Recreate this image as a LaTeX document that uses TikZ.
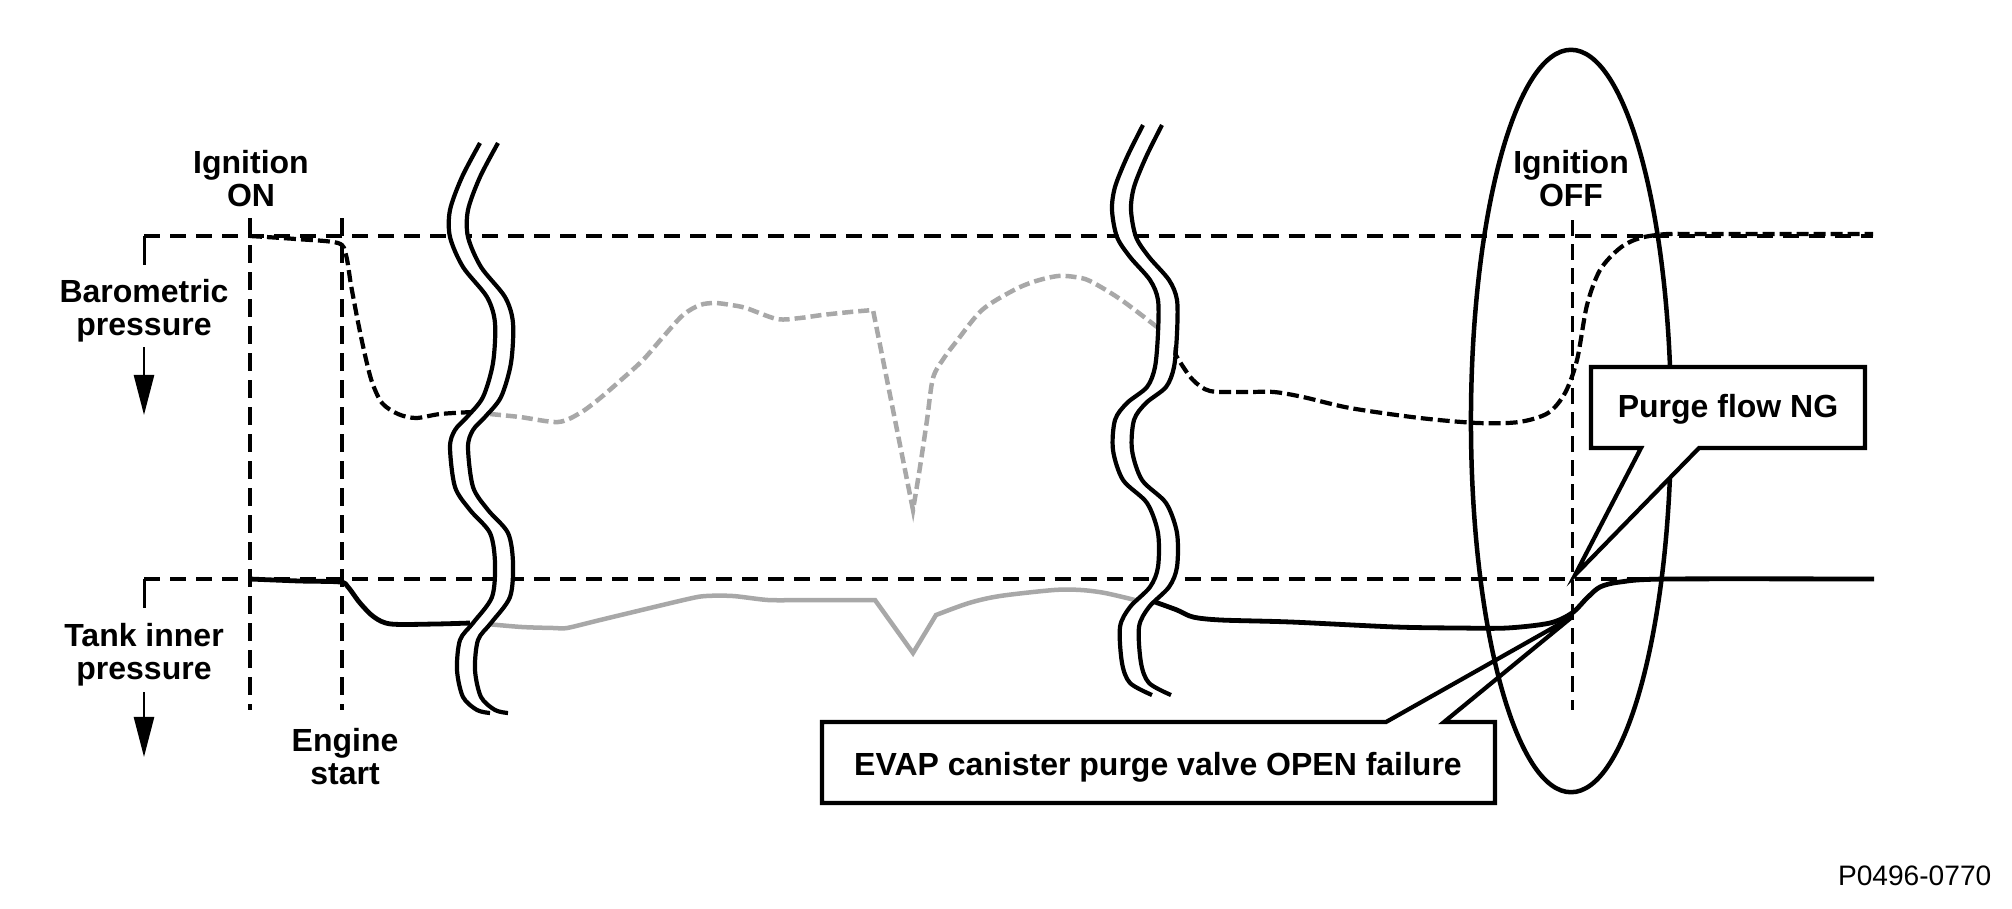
\documentclass[tikz,border=0pt]{standalone}
\usepackage{fontspec}
\setmainfont{Liberation Sans}
\usetikzlibrary{arrows.meta}
\definecolor{curvegrey}{HTML}{A8A8A8}
\begin{document}
\begin{tikzpicture}[x=0.01cm,y=-0.01cm,
  baseln/.style={line width=0.042cm, dash pattern=on 0.16cm off 0.10cm},
  vline/.style={line width=0.045cm, dash pattern=on 0.18cm off 0.09cm},
  offline/.style={line width=0.03cm, dash pattern=on 0.16cm off 0.08cm},
  tickmark/.style={line width=0.03cm},
  barocurve/.style={line width=0.042cm, dash pattern=on 0.12cm off 0.05cm},
  greydash/.style={line width=0.045cm, color=curvegrey, dash pattern=on 0.11cm off 0.05cm},
  greysolid/.style={line width=0.045cm, color=curvegrey},
  tankcurve/.style={line width=0.048cm},
  wavyline/.style={line width=0.042cm},
  waveband/.style={white, line width=0.14cm},
  lbl/.style={font=\fontsize{9.1pt}{9.4pt}\selectfont\bfseries, align=center, inner sep=0pt},
  calloutbox/.style={line width=0.042cm, fill=white, line join=miter},
  ring/.style={line width=0.045cm},
  downarrow/.style={line width=0.025cm, -{Triangle[length=0.40cm, width=0.20cm]}},
]
\fill[white] (0,0) rectangle (2012,908);
\useasboundingbox (0,0) rectangle (2012,908);

% baselines
\coordinate (bL) at (144,236); \coordinate (bR) at (1873,236);
\coordinate (tL) at (144,579); \coordinate (tR) at (1873,579);
\draw[baseln] (bL) -- (bR);
\draw[tickmark] (bL) -- (144,265);
\draw[baseln] (tL) -- (tR);
\draw[tickmark] (tL) -- (144,608);

% vertical event lines
\draw[vline] (250,218) -- (250,710);
\draw[vline] (342,218) -- (342,710);
\draw[offline] (1572,220) -- (1572,710);

% barometric curves
\draw[barocurve] plot[smooth] coordinates {(250,236) (296,239) (338,243) (346,255) (351,285) (358,322) (365,355) (372,382) (382,403) (398,414) (416,418) (440,414) (472,412)};
\draw[greydash] plot[smooth] coordinates {(490,414) (520,417) (558,422) (580,413) (599,399) (621,380) (643,360) (663,337) (683,315) (700,305) (715,303) (731,305) (746,308) (777,319) (800,318) (822,315) (850,312) (873,310)} -- plot[smooth] coordinates {(913,510) (920,467) (927,420) (933,378) (944,358) (956,342) (982,310) (1014,290) (1036,281) (1058,276) (1075,277) (1090,281) (1120,299) (1157,327)};
\draw[barocurve] plot[smooth] coordinates {(1172,348) (1180,362) (1193,380) (1210,391) (1245,392) (1274,392) (1303,397) (1350,408) (1420,418) (1478,423) (1519,422) (1548,413) (1565,393) (1577,360) (1587,305) (1600,270) (1620,248) (1640,238) (1667,234) (1700,234) (1873,234)};

% tank curves
\draw[tankcurve] plot[smooth] coordinates {(250,579) (300,581) (340,582) (348,587) (360,603) (374,617) (391,624) (435,624) (470,623)};
\draw[greysolid] plot[smooth] coordinates {(487,624) (522,627) (554,628) (567,628) (596,621) (625,614) (688,599) (706,596) (733,596) (768,600) (800,600)} -- (875,600) -- (913,653) -- plot[smooth] coordinates {(936,615) (969,603) (1000,596) (1054,590) (1081,590) (1105,593) (1135,600)};
\draw[tankcurve] plot[smooth] coordinates {(1155,602) (1177,610) (1193,617) (1221,620) (1291,622) (1396,627) (1460,628) (1507,628) (1550,623) (1572,613) (1587,598) (1600,587) (1620,582) (1667,579) (1874,579)};

% break marks
\foreach \dx/\st in {9/waveband, 0/wavyline, 18/wavyline} {
  \draw[\st, shift={(\dx,0)}] plot[smooth] coordinates {(480,143) (462,177) (450,210) (450,237) (463,267) (487,297) (495,323) (493,363) (483,397) (467,417) (455,430) (450,447) (455,487) (470,510) (490,533) (495,563) (492,597) (473,623) (460,640) (457,670) (463,697) (477,710) (490,713)};
}
\foreach \dx/\st in {9.5/waveband, 0/wavyline, 19/wavyline} {
  \draw[\st, shift={(\dx,0)}] plot[smooth] coordinates {(1143,125) (1127,157) (1115,187) (1112,210) (1117,237) (1130,257) (1150,280) (1158,300) (1158,333) (1155,367) (1147,387) (1127,403) (1115,420) (1113,450) (1123,480) (1147,503) (1158,533) (1158,567) (1150,587) (1130,607) (1120,627) (1122,663) (1130,683) (1152,695)};
}

% EVAP callout
\coordinate (tipE) at (1572,617);
\draw[calloutbox] (822,722) -- (1386,722) -- (tipE) -- (1444,722) -- (1495,722) -- (1495,803) -- (822,803) -- cycle;
\node[lbl, anchor=base] (evap) at (1158,775) {EVAP canister purge valve OPEN failure};

% ellipse
\draw[ring] (1571,421) ellipse [x radius=1cm, y radius=3.71cm];

% Purge callout
\coordinate (tipP) at (1575,575);
\draw[calloutbox] (1591,367) -- (1865,367) -- (1865,448) -- (1699,448) -- (tipP) -- (1641,448) -- (1591,448) -- cycle;
\node[lbl, anchor=base] (purge) at (1728,417) {Purge flow NG};

% labels
\node[lbl, anchor=north] (ignon) at (251,150) {Ignition\\ON};
\node[lbl, anchor=north] (ignoff) at (1571,150) {Ignition\\OFF};
\node[lbl, anchor=north] (baro) at (144,279) {Barometric\\pressure};
\node[lbl, anchor=north] (tank) at (144,623) {Tank inner\\pressure};
\node[lbl, anchor=north] (engine) at (345,728) {Engine\\start};
\node[font=\fontsize{8pt}{9pt}\selectfont, inner sep=0pt, anchor=base east] (code) at (1992,885) {P0496-0770};

% direction arrows
\coordinate (a1s) at (144,347); \coordinate (a1e) at (144,415);
\coordinate (a2s) at (144,692); \coordinate (a2e) at (144,757);
\draw[downarrow] (a1s) -- (a1e);
\draw[downarrow] (a2s) -- (a2e);
\end{tikzpicture}
\end{document}
